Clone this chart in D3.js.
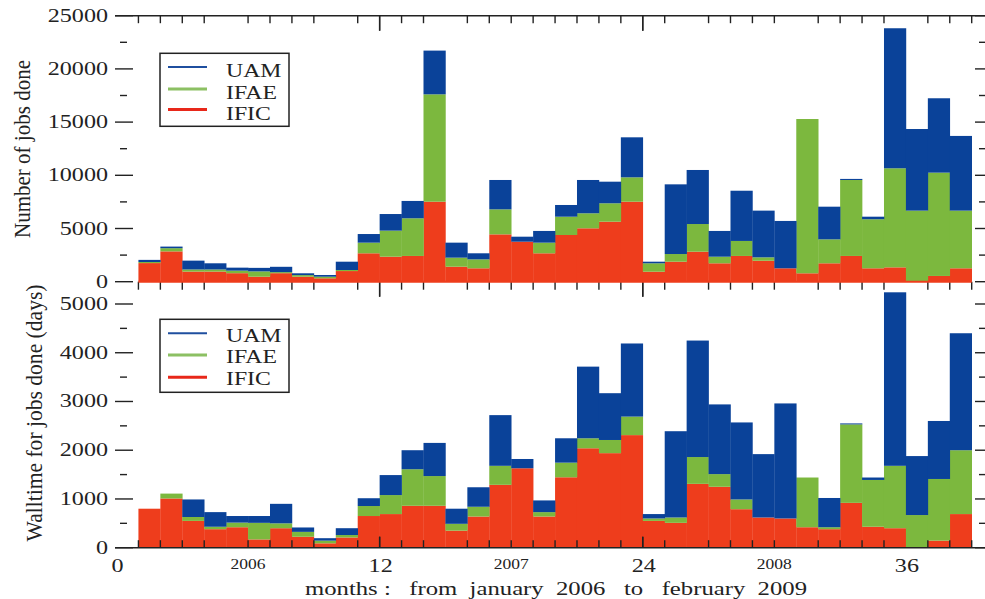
<!DOCTYPE html>
<html><head><meta charset="utf-8">
<script src="https://cdn.jsdelivr.net/npm/d3@7"></script>
<style>html,body{margin:0;padding:0;background:#fff;}svg{display:block;}</style>
</head><body>
<svg id="chart" width="985" height="599"></svg>
<script>
// ---- data (months 1..38 : Jan 2006 .. Feb 2009) ----
const months = d3.range(1, 39);
const seriesNames = ["IFIC", "IFAE", "UAM"];
const colors = {IFIC: "#ee3d1c", IFAE: "#7cb83e", UAM: "#0a4299"};
const legendColors = {IFIC: "#e8281a", IFAE: "#8cc063", UAM: "#1f4f9f"};

const jobsIFIC = [1750,2850,950,950,800,470,800,470,320,1000,2670,2350,2420,7520,1410,1260,4450,3760,2670,4390,5020,5640,7520,940,1880,2820,1730,2420,1970,1260,790,1730,2420,1260,1350,0,540,1260];
const jobsIFAE = [100,300,200,200,240,500,100,150,150,100,1000,2450,3540,10090,850,840,2350,0,1000,1720,1410,1730,2290,790,720,2600,620,1410,320,0,14500,2250,7140,4610,9310,6680,9710,5420];
const jobsUAM  = [200,150,830,580,280,330,500,170,160,780,810,1560,1630,4110,1410,570,2760,470,1100,1100,3130,2030,3760,150,6550,5080,2420,4720,4390,4450,0,3070,100,240,13160,7670,6990,7020];

const wallIFIC = [800,1010,550,380,420,170,400,225,90,210,650,690,860,860,350,640,1290,1630,640,1445,2040,1940,2310,550,510,1310,1250,790,620,600,420,380,920,430,400,0,145,690];
const wallIFAE = [0,100,80,50,95,340,100,100,55,50,205,390,750,610,140,200,390,0,90,300,205,270,380,50,110,550,260,200,0,0,1020,40,1610,960,1280,670,1265,1310];
const wallUAM  = [0,0,360,300,135,140,400,90,50,140,160,410,390,680,310,400,1040,190,240,500,1470,960,1500,90,1770,2390,1430,1580,1300,2360,0,600,20,50,3560,1210,1190,2400];

const jobsTicks = [0,5000,10000,15000,20000,25000];
const wallTicks = [0,1000,2000,3000,4000,5000];
const xNumLabels = [{m:0,t:"0"},{m:12,t:"12"},{m:24,t:"24"},{m:36,t:"36"}];
const xYearLabels = [{m:6,t:"2006"},{m:18,t:"2007"},{m:30,t:"2008"}];
const xTitle = "months :   from  january  2006   to   february  2009";
const topTitle = "Number of jobs done";
const botTitle = "Walltime for jobs done (days)";

// ---- layout ----
const svg = d3.select("#chart");
const FONT = "'Liberation Serif','Times New Roman',serif";
const SX = 1.27;
const x = d3.scaleLinear().domain([0, 39]).range([116.5, 971.7]);
const yTop = d3.scaleLinear().domain([0, 25000]).range([281.7, 15.7]);
const yBot = d3.scaleLinear().domain([0, 5000]).range([547.7, 304]);

function txt(px, py, s, size, anchor, sx) {
  return svg.append("text").attr("transform", `translate(${px},${py}) scale(${sx||SX},1)`)
    .attr("font-family", FONT).attr("font-size", size)
    .attr("text-anchor", anchor || "start").attr("fill", "#222").text(s);
}

function drawPanel(ific, ifae, uam, y) {
  const rows = months.map((m, i) => ({month: m, IFIC: ific[i], IFAE: ifae[i], UAM: uam[i]}));
  const stacked = d3.stack().keys(seriesNames)(rows);
  const g = svg.append("g");
  stacked.forEach(layer => {
    g.selectAll(null).data(layer).enter().append("rect")
      .attr("x", d => x(d.data.month))
      .attr("width", d => x(d.data.month + 1) - x(d.data.month) + 0.3)
      .attr("y", d => y(d[1]))
      .attr("height", d => Math.max(0, y(d[0]) - y(d[1])))
      .attr("fill", colors[layer.key]);
  });
}

drawPanel(jobsIFIC, jobsIFAE, jobsUAM, yTop);
drawPanel(wallIFIC, wallIFAE, wallUAM, yBot);

// ---- axes lines & x ticks ----
const hidden = [5, 10, 15, 26, 31, 36];
const tickMonths = d3.range(1, 40).filter(m => !hidden.includes(m));
const major = [12, 24];
const axisG = svg.append("g").attr("stroke", "#222").attr("stroke-width", 1.4);
axisG.append("line").attr("x1", 115).attr("x2", 985).attr("y1", yTop(25000)).attr("y2", yTop(25000));
axisG.append("line").attr("x1", 115).attr("x2", 985).attr("y1", yBot(0)).attr("y2", yBot(0));
svg.append("line").attr("x1", x(1)).attr("x2", x(39)).attr("y1", yTop(0)).attr("y2", yTop(0))
  .attr("stroke", colors.IFIC).attr("stroke-width", 2);

tickMonths.concat(major).forEach(m => {
  const big = major.includes(m);
  const xx = x(m);
  axisG.append("line").attr("x1", xx).attr("x2", xx).attr("y1", yTop(25000)).attr("y2", yTop(25000) + (big ? 15 : 7.5));
  axisG.append("line").attr("x1", xx).attr("x2", xx).attr("y1", yTop(0)).attr("y2", yTop(0) + (big ? 15 : 8));
  axisG.append("line").attr("x1", xx).attr("x2", xx).attr("y1", yBot(0)).attr("y2", yBot(0) - (big ? 11 : 7.5));
});

// ---- y ticks ----
function yTicks(y, ticks, step) {
  const minor = d3.range(ticks[0] + step / 2, ticks[ticks.length - 1], step);
  ticks.forEach(v => {
    axisG.append("line").attr("x1", 115).attr("x2", 133).attr("y1", y(v)).attr("y2", y(v));
    axisG.append("line").attr("x1", 975).attr("x2", 985).attr("y1", y(v)).attr("y2", y(v));
    txt(108, y(v) + 6, String(v), 19, "end");
  });
  minor.forEach(v => {
    axisG.append("line").attr("x1", 120).attr("x2", 127).attr("y1", y(v)).attr("y2", y(v));
    axisG.append("line").attr("x1", 979).attr("x2", 985).attr("y1", y(v)).attr("y2", y(v));
  });
}
yTicks(yTop, jobsTicks, 5000);
yTicks(yBot, wallTicks, 1000);

// ---- x labels ----
xNumLabels.forEach(d => txt(x(d.m) + 1, 572, d.t, 19, "middle"));
xYearLabels.forEach(d => txt(x(d.m), 569, d.t, 14, "middle", 1.25));
svg.append("text").attr("x", 305).attr("y", 595)
  .attr("font-family", FONT).attr("font-size", 19).attr("fill", "#222")
  .attr("textLength", 502).attr("lengthAdjust", "spacingAndGlyphs")
  .style("white-space", "pre").text(xTitle);

// ---- y titles ----
svg.append("text").attr("transform", "translate(30,149) scale(1.2,1) rotate(-90)")
  .attr("font-family", FONT).attr("font-size", 20).attr("text-anchor", "middle").attr("fill", "#222")
  .attr("textLength", 178).attr("lengthAdjust", "spacingAndGlyphs").text(topTitle);
svg.append("text").attr("transform", "translate(42,413) scale(1.2,1) rotate(-90)")
  .attr("font-family", FONT).attr("font-size", 20).attr("text-anchor", "middle").attr("fill", "#222")
  .attr("textLength", 257).attr("lengthAdjust", "spacingAndGlyphs").text(botTitle);

// ---- legends ----
function legend(top, lineYs, baseYs) {
  svg.append("rect").attr("x", 160).attr("y", top).attr("width", 129).attr("height", 73)
    .attr("fill", "#fff").attr("stroke", "#222").attr("stroke-width", 1.5);
  const order = ["UAM", "IFAE", "IFIC"];
  order.forEach((k, i) => {
    svg.append("line").attr("x1", 168).attr("x2", 207).attr("y1", lineYs[i]).attr("y2", lineYs[i])
      .attr("stroke", legendColors[k]).attr("stroke-width", k === "UAM" ? 2 : 3);
    txt(226, baseYs[i], k, 19, "start", 1.25);
  });
}
legend(53.3, [67, 89, 109.5], [77, 98.5, 119.5]);
legend(319.3, [333.3, 355, 377.3], [341.7, 363.3, 385]);
</script>
</body></html>
